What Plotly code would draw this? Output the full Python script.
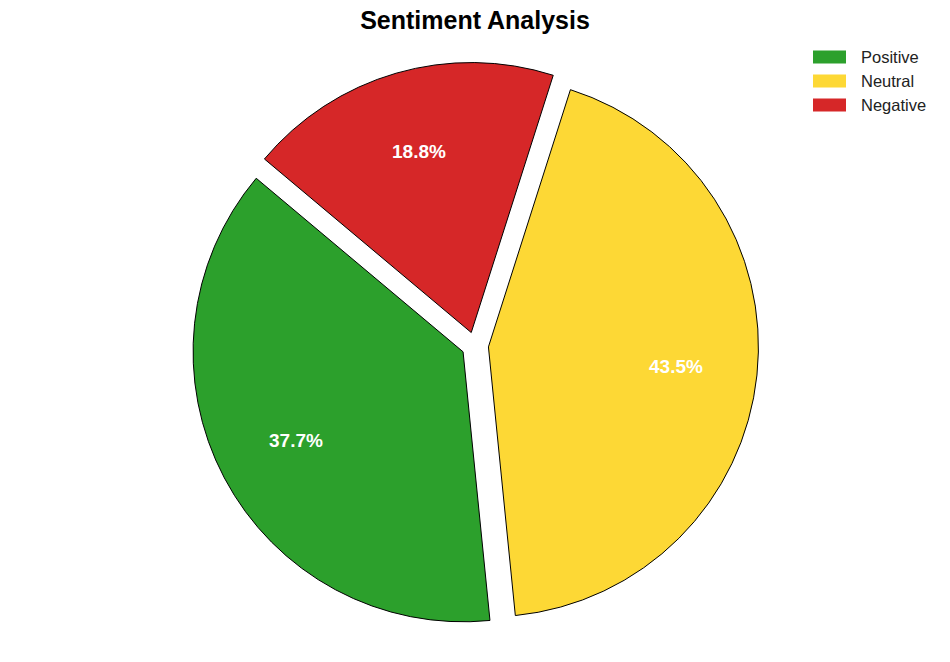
import math
import plotly.graph_objects as go

labels = ["Positive", "Neutral", "Negative"]
values = [37.7, 43.5, 18.8]
colors = ["#2ca02c", "#fdd835", "#d62728"]

W, H = 950, 662
M_T, M_B = 62, 33
PULL = 0.05
START_ANGLE = 140.0   # degrees, counter-clockwise from 3 o'clock
PCT_DIST = 0.7

plot_h = H - M_T - M_B
R = plot_h / 2 / (1 + PULL)

fig = go.Figure(go.Pie(
    labels=labels,
    values=values,
    sort=False,
    direction="counterclockwise",
    rotation=(90 - START_ANGLE) - 360 * values[0] / sum(values),
    pull=[PULL] * len(values),
    marker=dict(colors=colors, line=dict(color="black", width=1)),
    textinfo="none",
    hoverinfo="label+percent",
    showlegend=False,
))

# percentage labels placed like matplotlib's autopct (pctdistance from exploded centre)
total = sum(values)
annotations = []
cum = 0.0
for lab, v in zip(labels, values):
    mid = math.radians(START_ANGLE + 360 * (cum + v / 2) / total)
    cum += v
    d = R * (PULL + PCT_DIST)
    annotations.append(dict(
        x=0.5 + d * math.cos(mid) / W, y=0.5 + d * math.sin(mid) / plot_h,
        xref="paper", yref="paper", xanchor="center", yanchor="middle", showarrow=False,
        text=f"<b>{100 * v / total:.1f}%</b>",
        font=dict(family="Liberation Sans, Arial", size=19, color="white"),
    ))

# legend (matplotlib-style wide swatches)
shapes = []
leg_y0, leg_dy = 57, 24
for i, (lab, c) in enumerate(zip(labels, colors)):
    yc = leg_y0 + i * leg_dy
    yp = (H - M_B - yc) / plot_h
    shapes.append(dict(type="rect", xref="paper", yref="paper",
                       x0=813 / W, x1=846 / W, y0=yp - 6.5 / plot_h, y1=yp + 6.5 / plot_h,
                       fillcolor=c, line=dict(width=0)))
    annotations.append(dict(x=859 / W, y=yp, xref="paper", yref="paper",
                            xanchor="left", yanchor="middle", showarrow=False, text=lab,
                            font=dict(family="Liberation Sans, Arial", size=16.5, color="#222")))

fig.update_layout(
    width=W, height=H,
    margin=dict(l=0, r=0, t=M_T, b=M_B),
    paper_bgcolor="white",
    plot_bgcolor="white",
    title=dict(text="<b>Sentiment Analysis</b>", x=0.5, xanchor="center",
               y=1 - 20 / H, yanchor="middle",
               font=dict(family="Liberation Sans, Arial", size=25, color="black")),
    annotations=annotations,
    shapes=shapes,
)

fig.write_html("out.html")
